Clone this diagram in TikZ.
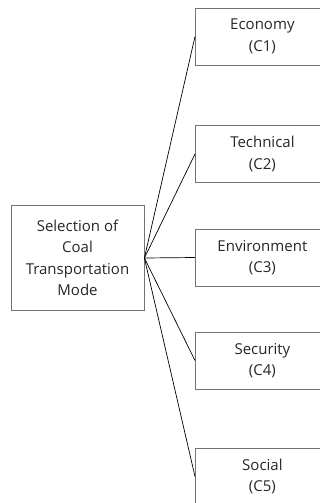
\documentclass[tikz,border=0pt]{standalone}
\usepackage{fontspec}
\setmainfont{Open Sans}
\usetikzlibrary{positioning}

\begin{document}
\begin{tikzpicture}[x=1pt,y=-1pt,
    box/.style={draw=black!55,line width=0.8pt,align=center,text=black!85,
      font=\fontsize{15}{21.5}\selectfont,inner sep=0pt},
    crit/.style={box,anchor=west,minimum width=134pt,minimum height=57pt}]
  \useasboundingbox (0,0) rectangle (320,503);
  \node (goal) [box,minimum width=133pt,minimum height=105pt] at (77.5,258)
    {Selection of\\Coal\\Transportation\\Mode};
  \node (c1) [crit] at (195,36.5)  {Economy\\(C1)};
  \node (c2) [crit] at (195,154)   {Technical\\(C2)};
  \node (c3) [crit] at (195,257.5) {Environment\\(C3)};
  \node (c4) [crit] at (195,360.5) {Security\\(C4)};
  \node (c5) [crit] at (195,476.5) {Social\\(C5)};
  \path[draw,line width=0.7pt]
    (goal.east) edge (c1.west)
                edge (c2.west)
                edge (c3.west)
                edge (c4.west)
                edge (c5.west)
  ;
\end{tikzpicture}
\end{document}
